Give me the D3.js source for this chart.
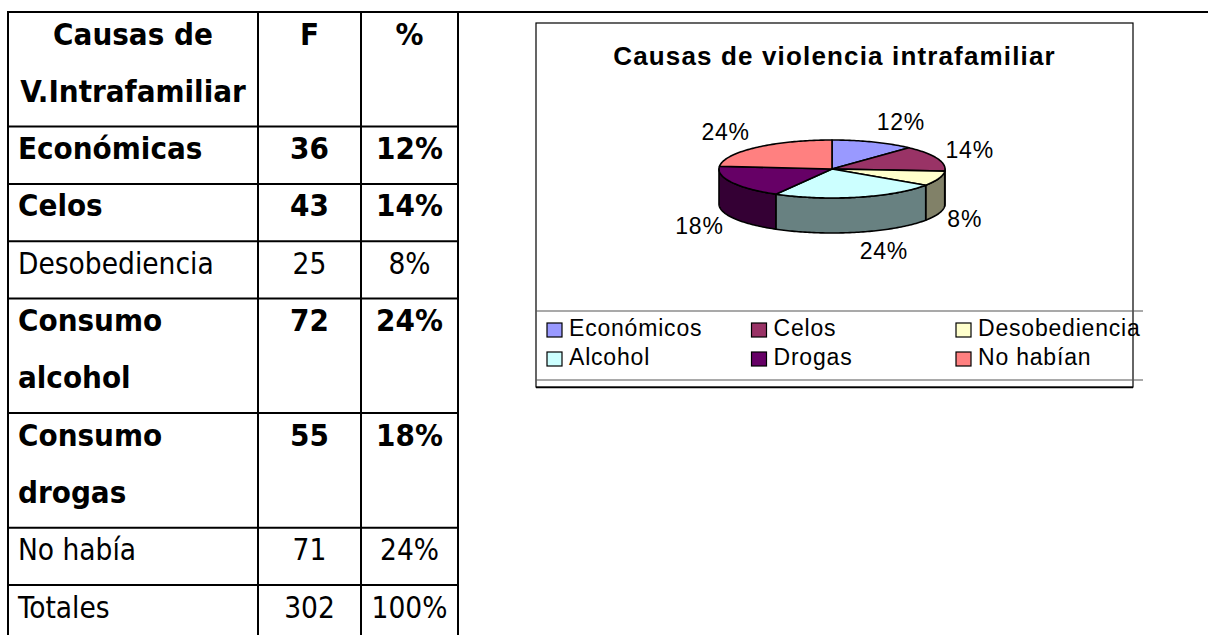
<!DOCTYPE html>
<html>
<head>
<meta charset="utf-8">
<script src="https://cdn.jsdelivr.net/npm/d3@7"></script>
<style>
  body { margin: 0; background: #fff; }
  svg { display: block; }
</style>
</head>
<body>
<div id="page"></div>
<script>
// Table data
var headerCols = [["Causas de", "V.Intrafamiliar"], ["F"], ["%"]];
var causeLines = [["Económicas"], ["Celos"], ["Desobediencia"], ["Consumo", "alcohol"], ["Consumo", "drogas"], ["No había"], ["Totales"]];
var freqs = [36, 43, 25, 72, 55, 71, 302];
var pcts = ["12%", "14%", "8%", "24%", "18%", "24%", "100%"];
var boldRows = [true, true, false, true, true, false, false];

// Pie chart data
var pieTitle = "Causas de violencia intrafamiliar";
var pieLabels = ["Económicos", "Celos", "Desobediencia", "Alcohol", "Drogas", "No habían"];
var pieValues = [36, 43, 25, 72, 55, 71];
var pieColors = ["#9999ff", "#993366", "#ffffcc", "#ccffff", "#660066", "#ff8080"];

var W = 1208, H = 635;

var svg = d3.select("#page")
    .append("svg")
        .attr("width", W)
        .attr("height", H);

svg.append("rect").attr("width", W).attr("height", H).attr("fill", "#fff");

// ---------------- Table ----------------
var colX = [8, 258, 361, 458];
var tableFont = "'DejaVu Sans Condensed', 'DejaVu Sans', sans-serif";

// cumulative line count -> y position
var lineY = d3.scaleLinear().domain([0, 1]).range([12, 12 + 57.3]);

var rowLineCounts = [2].concat(causeLines.map(function (d) { return d.length; }));
var rowStarts = [0];
rowLineCounts.forEach(function (n, i) { rowStarts.push(rowStarts[i] + n); });

var table = svg.append("g").attr("class", "table");

// horizontal lines (top one runs across the page)
table.append("line")
    .attr("x1", colX[0] - 1).attr("x2", W)
    .attr("y1", lineY(0)).attr("y2", lineY(0))
    .attr("stroke", "#000").attr("stroke-width", 2);

table.selectAll(".hline")
    .data(rowStarts.slice(1, rowStarts.length - 1))
    .enter().append("line")
    .attr("class", "hline")
    .attr("x1", colX[0] - 1).attr("x2", colX[3] + 1)
    .attr("y1", function (d) { return lineY(d); })
    .attr("y2", function (d) { return lineY(d); })
    .attr("stroke", "#000").attr("stroke-width", 2);

table.selectAll(".vline")
    .data(colX)
    .enter().append("line")
    .attr("class", "vline")
    .attr("x1", function (d) { return d; }).attr("x2", function (d) { return d; })
    .attr("y1", lineY(0)).attr("y2", H)
    .attr("stroke", "#000").attr("stroke-width", 2);

function cellText(col, row, lines, bold, anchor) {
    var x = anchor === "start" ? colX[col] + 10 : (colX[col] + colX[col + 1]) / 2;
    lines.forEach(function (t, k) {
        table.append("text")
            .attr("x", x)
            .attr("y", lineY(rowStarts[row] + k) + 32.5)
            .attr("text-anchor", anchor)
            .style("font-family", tableFont)
            .style("font-stretch", "condensed")
            .style("font-size", bold ? "31px" : "29.5px")
            .style("font-weight", bold ? "bold" : "normal")
            .attr("fill", "#000")
            .text(t);
    });
}

// header
headerCols.forEach(function (lines, c) { cellText(c, 0, lines, true, "middle"); });

// body rows
causeLines.forEach(function (lines, i) {
    cellText(0, i + 1, lines, boldRows[i], "start");
    cellText(1, i + 1, [String(freqs[i])], boldRows[i], "middle");
    cellText(2, i + 1, [pcts[i]], boldRows[i], "middle");
});

// ---------------- Pie chart ----------------
var chartFont = "'Liberation Sans', Arial, sans-serif";
var box = {x0: 536, y0: 23, x1: 1133, y1: 387};
var legendTop = 311, legendBottom = 380, legendRight = 1143;

var chart = svg.append("g").attr("class", "chart");

chart.append("rect")
    .attr("x", box.x0).attr("y", box.y0)
    .attr("width", box.x1 - box.x0).attr("height", box.y1 - box.y0)
    .attr("fill", "#fff").attr("stroke", "#000").attr("stroke-width", 1.2);

chart.append("line")
    .attr("x1", box.x0).attr("x2", box.x1)
    .attr("y1", box.y1 + 0.5).attr("y2", box.y1 + 0.5)
    .attr("stroke", "#000").attr("stroke-width", 1.5);

chart.selectAll(".legline")
    .data([legendTop, legendBottom])
    .enter().append("line")
    .attr("class", "legline")
    .attr("x1", box.x0).attr("x2", legendRight)
    .attr("y1", function (d) { return d; }).attr("y2", function (d) { return d; })
    .attr("stroke", "#555").attr("stroke-width", 1.2);

chart.append("text")
    .attr("x", (box.x0 + box.x1) / 2)
    .attr("y", 65)
    .attr("text-anchor", "middle")
    .style("font-family", chartFont)
    .style("font-size", "26px")
    .style("font-weight", "bold")
    .style("letter-spacing", "1.15px")
    .text(pieTitle);

// 3D pie geometry
var cx = 832, cy = 169, rx = 113, ry = 29, depth = 35;
var total = d3.sum(pieValues);
var fmtPct = d3.format(".0%");

var pie = d3.pie().sort(null).value(function (d) { return d; });
var arcs = pie(pieValues);

function pt(a, dy) {
    return [cx + rx * Math.sin(a), cy - ry * Math.cos(a) + (dy || 0)];
}
function arcPts(a0, a1, dy) {
    var n = Math.max(2, Math.ceil(Math.abs(a1 - a0) / 0.02));
    return d3.range(n + 1).map(function (k) { return pt(a0 + (a1 - a0) * k / n, dy); });
}
var line = d3.line();

// side walls on the front half
var front0 = Math.PI / 2, front1 = 3 * Math.PI / 2;
arcs.forEach(function (d, i) {
    var s = Math.max(d.startAngle, front0), e = Math.min(d.endAngle, front1);
    if (e <= s) return;
    var pts = arcPts(s, e, 0).concat(arcPts(e, s, depth));
    chart.append("path")
        .attr("d", line(pts) + "Z")
        .attr("fill", d3.color(pieColors[i]).darker(1.9))
        .attr("stroke", "#000").attr("stroke-width", 1.6)
        .attr("stroke-linejoin", "round");
});

// top faces
arcs.forEach(function (d, i) {
    var pts = [[cx, cy]].concat(arcPts(d.startAngle, d.endAngle, 0));
    chart.append("path")
        .attr("d", line(pts) + "Z")
        .attr("fill", pieColors[i])
        .attr("stroke", "#000").attr("stroke-width", 1.6)
        .attr("stroke-linejoin", "round");
});

// percentage labels outside the slices
arcs.forEach(function (d, i) {
    var m = (d.startAngle + d.endAngle) / 2;
    var s = Math.sin(m), c = Math.cos(m);
    var t = chart.append("text")
        .attr("text-anchor", "middle")
        .style("font-family", chartFont)
        .style("font-size", "23px")
        .style("letter-spacing", "0.8px")
        .text(fmtPct(d.value / total));
    var w = t.node().getComputedTextLength();
    var x = cx + (rx + 9) * s + (w / 2) * Math.sign(s);
    var y = cy - 1 - (ry + 20) * c + (c < 0 ? depth : 0);
    t.attr("x", x).attr("y", y + 8);
});

// legend
var legX = d3.scaleLinear().domain([0, 1]).range([547, 547 + 204.5]);
var legY = d3.scaleLinear().domain([0, 1]).range([336, 365]);

var leg = chart.selectAll(".legitem")
    .data(pieLabels)
    .enter().append("g")
    .attr("class", "legitem")
    .attr("transform", function (d, i) {
        return "translate(" + legX(i % 3) + "," + legY(Math.floor(i / 3)) + ")";
    });

leg.append("rect")
    .attr("x", 0).attr("y", -13)
    .attr("width", 15).attr("height", 14)
    .attr("fill", function (d, i) { return pieColors[i]; })
    .attr("stroke", "#000").attr("stroke-width", 1.2);

leg.append("text")
    .attr("x", 22)
    .attr("y", 0)
    .style("font-family", chartFont)
    .style("font-size", "23px")
    .style("letter-spacing", "0.8px")
    .text(function (d) { return d; });
</script>
</body>
</html>
